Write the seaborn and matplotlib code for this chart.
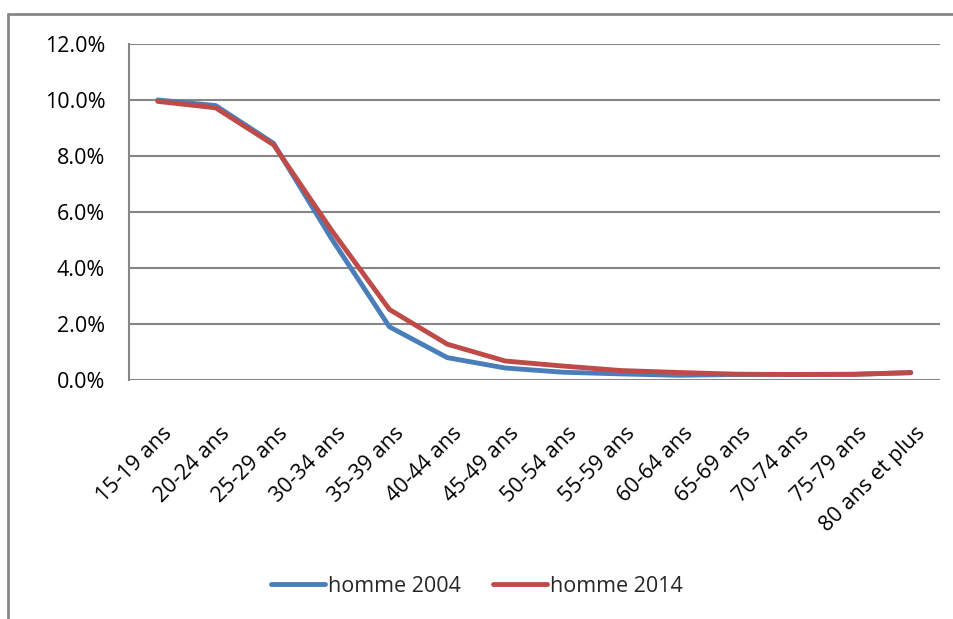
import pandas as pd
import matplotlib.pyplot as plt
import matplotlib.transforms as mtransforms
import seaborn as sns
from matplotlib.lines import Line2D
from matplotlib.ticker import PercentFormatter

# Age groups and share of men (%) per year
ages = ['15-19 ans', '20-24 ans', '25-29 ans', '30-34 ans', '35-39 ans', '40-44 ans',
        '45-49 ans', '50-54 ans', '55-59 ans', '60-64 ans', '65-69 ans', '70-74 ans',
        '75-79 ans', '80 ans et plus']
homme_2004 = [10.0, 9.8, 8.45, 5.05, 1.9, 0.8, 0.43, 0.28, 0.22, 0.17, 0.2, 0.2, 0.21, 0.26]
homme_2014 = [9.95, 9.72, 8.4, 5.35, 2.52, 1.28, 0.68, 0.5, 0.34, 0.27, 0.21, 0.2, 0.2, 0.27]

df = pd.DataFrame({
    'age': ages * 2,
    'value': homme_2004 + homme_2014,
    'serie': ['homme 2004'] * len(ages) + ['homme 2014'] * len(ages),
})

sns.set_style('white')
plt.rcParams['font.family'] = ['Open Sans', 'DejaVu Sans']
FS = 15.5

fig = plt.figure(figsize=(9.54, 6.19), dpi=100)
ax = fig.add_axes([0.135, 0.386, 0.85, 0.543])

palette = {'homme 2004': '#4A7EBB', 'homme 2014': '#BE4B48'}
sns.lineplot(data=df, x='age', y='value', hue='serie', palette=palette,
             linewidth=3.5, sort=False, ax=ax, legend=False)

ax.set_xlim(-0.5, len(ages) - 0.5)
ax.set_ylim(0, 12)
ax.set_yticks([0, 2, 4, 6, 8, 10, 12])
ax.yaxis.set_major_formatter(PercentFormatter(decimals=1))
ax.grid(axis='y', color='#868686', linewidth=1.5)
ax.set_axisbelow(True)
for s in ['top', 'right', 'bottom']:
    ax.spines[s].set_visible(False)
ax.spines['left'].set_color('#868686')
ax.spines['left'].set_linewidth(1.5)
ax.set_xlabel('')
ax.set_ylabel('')
ax.tick_params(axis='both', length=0, labelsize=FS, colors='black')
ax.tick_params(axis='y', pad=17)
ax.tick_params(axis='x', pad=36)
ax.set_xticks(range(len(ages)))
ax.set_xticklabels(ages, rotation=45, ha='right', va='center', rotation_mode='anchor')
# nudge rotated labels a little to the right, like Excel does
shift = mtransforms.ScaledTranslation(8 / 72, 0, fig.dpi_scale_trans)
for lab in ax.get_xticklabels():
    lab.set_transform(lab.get_transform() + shift)

# legend at the bottom
handles = [Line2D([0], [0], color=palette[k], lw=3.5) for k in palette]
fig.legend(handles, list(palette), loc='center', bbox_to_anchor=(0.5, 0.053),
           ncol=2, frameon=False, fontsize=FS, handlelength=2.5,
           handletextpad=0.15, columnspacing=1.5)

# chart border (partially cropped in the original)
fig.add_artist(Line2D([0.008, 1.0], [0.977, 0.977], color='#888888', lw=2,
                      transform=fig.transFigure))
fig.add_artist(Line2D([0.008, 0.008], [0.0, 0.977], color='#888888', lw=2,
                      transform=fig.transFigure))

plt.savefig('out.png', dpi=100)
